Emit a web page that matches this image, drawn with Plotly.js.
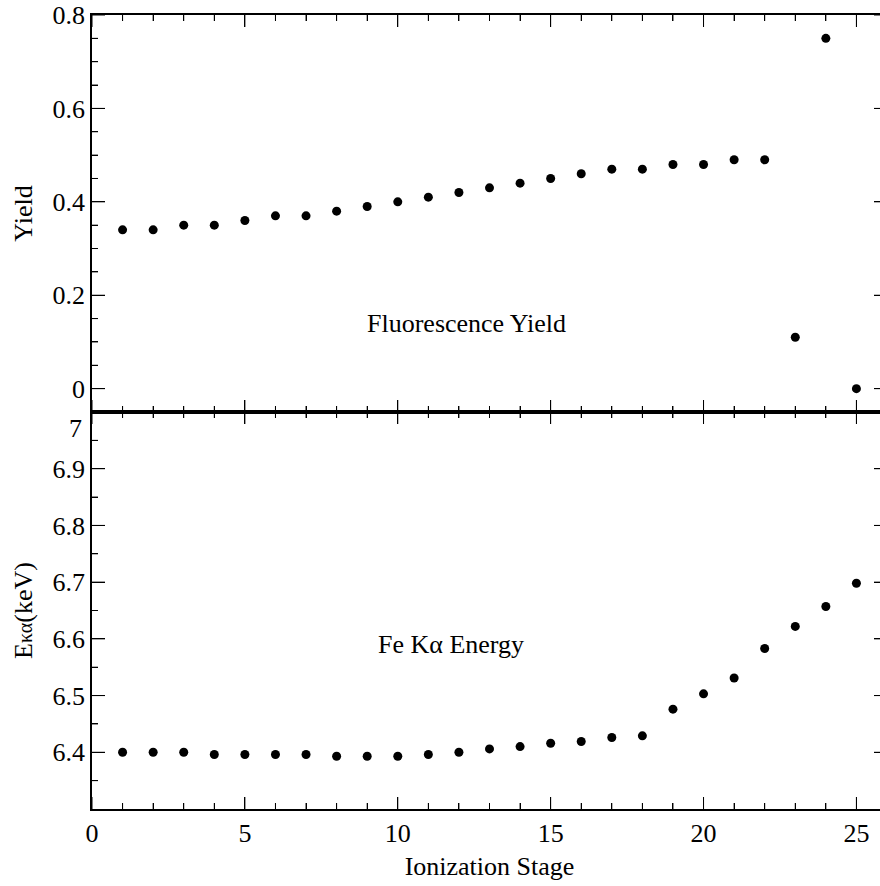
<!DOCTYPE html>
<html>
<head>
<meta charset="utf-8">
<script src="https://cdn.plot.ly/plotly-3.0.1.min.js"></script>
<style>
html, body { margin:0; padding:0; overflow:hidden; background:#fff; }
#chart { width:887px; height:886px; }
</style>
</head>
<body>
<div id="chart"></div>
<script>
// Ionization stage
var stages = [1,2,3,4,5,6,7,8,9,10,11,12,13,14,15,16,17,18,19,20,21,22,23,24,25];
// Fluorescence yield
var yieldVals = [0.34,0.34,0.35,0.35,0.36,0.37,0.37,0.38,0.39,0.40,0.41,0.42,0.43,0.44,0.45,0.46,0.47,0.47,0.48,0.48,0.49,0.49,0.11,0.75,0.00];
// Fe K-alpha energy (keV)
var energyVals = [6.400,6.400,6.400,6.396,6.396,6.396,6.396,6.393,6.393,6.393,6.396,6.400,6.406,6.410,6.416,6.419,6.426,6.429,6.476,6.503,6.531,6.583,6.622,6.657,6.698];
// axis tick positions (major / minor)
var xMajor = [0,5,10,15,20,25];
var xMinor = [1,2,3,4,6,7,8,9,11,12,13,14,16,17,18,19,21,22,23,24,26];
var yieldMajor = [0,0.2,0.4,0.6,0.8];
var yieldMinor = [0.05,0.1,0.15,0.25,0.3,0.35,0.45,0.5,0.55,0.65,0.7,0.75];
var energyMajor = [6.4,6.5,6.6,6.7,6.8,6.9,7.0];
var energyMinor = [6.35,6.45,6.55,6.65,6.75,6.85,6.95];

var FONT = 'Liberation Serif';
var TF = {family:FONT, size:26, color:'#000'};

var traces = [
  {x: stages, y: yieldVals, xaxis:'x2', yaxis:'y2', mode:'markers', type:'scatter',
   marker:{color:'#000', size:9}, showlegend:false},
  {x: stages, y: energyVals, xaxis:'x', yaxis:'y', mode:'markers', type:'scatter',
   marker:{color:'#000', size:9}, showlegend:false}
];

function xAxis(showLabels, anchor) {
  return {
    range:[0,26], anchor:anchor, tickmode:'linear', tick0:0, dtick:5,
    showticklabels: showLabels,
    ticks:'inside', ticklen:12, tickwidth:1, tickcolor:'#000',
    minor:{ticks:'inside', ticklen:6, dtick:1, tick0:0, tickwidth:1, tickcolor:'#000', showgrid:false},
    showline:true, linecolor:'#000', linewidth:1.5, mirror:'ticks',
    showgrid:false, zeroline:false,
    tickfont:TF
  };
}

// tick marks as pixel-sized shapes anchored on the axes (inward on all sides)
var shapes = [];
var LN = {color:'#000', width:1};
function xTicks(xref, yref, vals, len) {
  vals.forEach(function(v){
    shapes.push({type:'line', layer:'above', xref:xref, yref:yref + ' domain', ysizemode:'pixel', yanchor:0, x0:v, x1:v, y0:0, y1:len, line:LN});
    shapes.push({type:'line', layer:'above', xref:xref, yref:yref + ' domain', ysizemode:'pixel', yanchor:1, x0:v, x1:v, y0:0, y1:-len, line:LN});
  });
}
function yTicks(xref, yref, vals, len) {
  vals.forEach(function(v){
    shapes.push({type:'line', layer:'above', xref:xref + ' domain', yref:yref, xsizemode:'pixel', xanchor:0, x0:0, x1:len, y0:v, y1:v, line:LN});
    shapes.push({type:'line', layer:'above', xref:xref + ' domain', yref:yref, xsizemode:'pixel', xanchor:1, x0:0, x1:-len, y0:v, y1:v, line:LN});
  });
}
xTicks('x', 'y', xMajor, 12);  xTicks('x', 'y', xMinor, 6);
xTicks('x2', 'y2', xMajor, 12); xTicks('x2', 'y2', xMinor, 6);
yTicks('x2', 'y2', yieldMajor, 13); yTicks('x2', 'y2', yieldMinor, 6);
yTicks('x', 'y', energyMajor, 13); yTicks('x', 'y', energyMinor, 6);

var layout = {
  width:887, height:886,
  margin:{l:92, r:0, t:15, b:77},
  paper_bgcolor:'#fff', plot_bgcolor:'#fff',
  font:TF,
  showlegend:false,
  xaxis: Object.assign(xAxis(true,'y'), {title:{text:'Ionization Stage', font:TF, standoff:10}}),
  xaxis2: Object.assign(xAxis(false,'y2'), {matches:'x'}),
  yaxis: {
    domain:[0,0.5], range:[6.3,7.0], anchor:'x',
    tickmode:'linear', tick0:6.3, dtick:0.1, tickformat:'.1f',
    labelalias:{'7.0':' ', '6.3':' '},
    ticks:'inside', ticklen:13, tickwidth:1, tickcolor:'#000',
    minor:{ticks:'inside', ticklen:6, dtick:0.05, tick0:6.3, tickwidth:1, tickcolor:'#000', showgrid:false},
    showline:true, linecolor:'#000', linewidth:1.5, mirror:'ticks',
    showgrid:false, zeroline:false,
    tickfont:TF,
    title:{text:'E<span style="font-size:20px">κα</span>(keV)', font:TF, standoff:12}
  },
  yaxis2: {
    domain:[0.5,1], range:[-0.05,0.8], anchor:'x2',
    tickmode:'linear', tick0:0, dtick:0.2,
    ticks:'inside', ticklen:13, tickwidth:1, tickcolor:'#000',
    minor:{ticks:'inside', ticklen:6, dtick:0.05, tick0:0, tickwidth:1, tickcolor:'#000', showgrid:false},
    showline:true, linecolor:'#000', linewidth:1.5, mirror:'ticks',
    showgrid:false, zeroline:false,
    tickfont:TF,
    title:{text:'Yield', font:TF, standoff:12}
  },
  shapes: shapes,
  annotations:[
    {xref:'x2', yref:'y2', x:12.26, y:0.14, text:'Fluorescence Yield', showarrow:false, font:TF},
    {xref:'x', yref:'y', x:11.74, y:6.59, text:'Fe Kα Energy', showarrow:false, font:TF},
    {xref:'paper', yref:'y', x:0, y:7.0, xanchor:'right', xshift:-8, yshift:-16, text:'7', showarrow:false, font:TF}
  ]
};

Plotly.newPlot('chart', traces, layout, {displayModeBar:false});
</script>
</body>
</html>
